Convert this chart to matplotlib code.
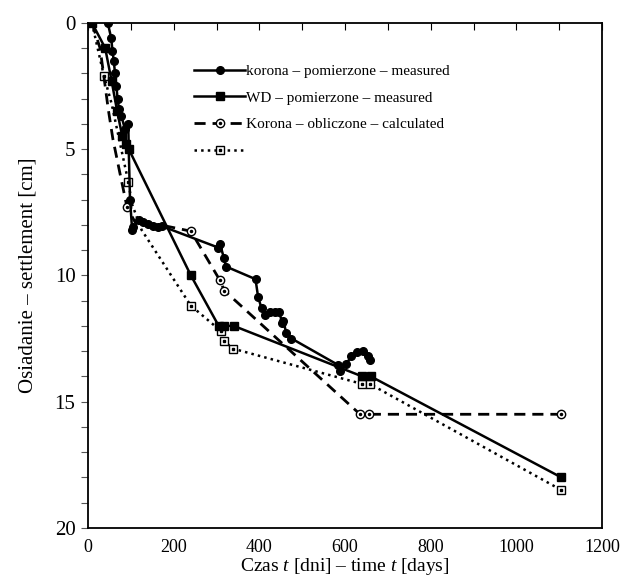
import matplotlib
matplotlib.use("Agg")
import matplotlib.pyplot as plt
from matplotlib.ticker import MultipleLocator
from matplotlib.legend_handler import HandlerTuple

plt.rcParams['font.family'] = ['Liberation Serif', 'DejaVu Serif']
plt.rcParams['mathtext.fontset'] = 'custom'
plt.rcParams['mathtext.rm'] = 'Liberation Serif'
plt.rcParams['mathtext.it'] = 'Liberation Serif:italic'

# korona - measured
kor_t = [46, 54, 57, 60, 63, 66, 69, 72, 78, 86, 94, 95, 98, 103, 106, 120, 129, 140, 152, 163, 172,
         304, 308, 317, 322, 391, 397, 405, 413, 425, 436, 446, 454, 456, 463, 475,
         584, 588, 603, 615, 627, 642, 654, 658]
kor_s = [0, 0.6, 1.1, 1.5, 2.0, 2.5, 3.0, 3.4, 3.7, 4.2, 4.0, 5.0, 7.0, 8.2, 8.1, 7.8, 7.9, 7.95, 8.05, 8.1, 8.05,
         8.9, 8.75, 9.3, 9.65, 10.15, 10.85, 11.3, 11.55, 11.45, 11.45, 11.45, 11.9, 11.8, 12.3, 12.5,
         13.55, 13.8, 13.5, 13.2, 13.05, 13.0, 13.2, 13.35]

# WD - measured
wd_t = [9, 40, 55, 68, 80, 88, 95, 240, 305, 318, 340, 640, 660, 1105]
wd_s = [0, 1.0, 2.3, 3.5, 4.5, 4.8, 5.0, 10.0, 12.0, 12.0, 12.0, 14.0, 14.0, 18.0]

# korona - calculated
calc_t = [9, 28, 36, 47, 58, 75, 91, 110, 130, 168, 240, 308, 318, 635, 655, 1105]
calc_s = [0, 1.0, 2.0, 3.4, 4.6, 6.0, 7.3, 7.9, 8.0, 8.0, 8.25, 10.2, 10.6, 15.5, 15.5, 15.5]
calc_mark = [6, 10, 11, 12, 13, 14, 15]

# WD - calculated (no label in legend)
dot_t = [9, 37, 55, 70, 94, 103, 125, 240, 310, 318, 338, 640, 658, 1105]
dot_s = [0, 2.1, 3.2, 4.4, 6.3, 7.2, 8.2, 11.2, 12.2, 12.6, 12.9, 14.3, 14.3, 18.5]
dot_mark = [1, 4, 7, 8, 9, 10, 11, 12, 13]

labels = ["korona – pomierzone – measured", "WD – pomierzone – measured",
          "Korona – obliczone – calculated", " "]

fig = plt.figure(figsize=(6.2, 5.84), dpi=100)
ax = fig.add_axes([0.142, 0.096, 0.829, 0.865])

l1, = ax.plot(kor_t, kor_s, '-o', color='black', lw=1.8, ms=5.5, zorder=4)
l2, = ax.plot(wd_t, wd_s, '-s', color='black', lw=1.8, ms=6, zorder=3)
l3, = ax.plot(calc_t, calc_s, '--o', color='black', lw=2, ms=6, mfc='white', mew=1, dashes=(4, 2.5),
              markevery=calc_mark, zorder=2)
d3, = ax.plot([calc_t[i] for i in calc_mark], [calc_s[i] for i in calc_mark], ls='none', marker='o',
              ms=1.5, color='black', zorder=2)
l4, = ax.plot(dot_t, dot_s, ':s', color='black', lw=1.8, ms=6, mfc='white', mew=1,
              markevery=dot_mark, zorder=1)
d4, = ax.plot([dot_t[i] for i in dot_mark], [dot_s[i] for i in dot_mark], ls='none', marker='s',
              ms=1.5, color='black', zorder=1)

ax.set_xlim(0, 1200)
ax.set_ylim(20, 0)
ax.xaxis.set_major_locator(MultipleLocator(200))
ax.xaxis.set_minor_locator(MultipleLocator(100))
ax.yaxis.set_major_locator(MultipleLocator(5))
ax.yaxis.set_minor_locator(MultipleLocator(1))

ax.tick_params(axis='x', which='both', top=True, bottom=False, labeltop=False, labelbottom=True,
               direction='in', length=5, width=0.8, labelsize=13, pad=8)
ax.tick_params(axis='y', which='both', direction='out', length=5, width=0.8, labelsize=15, pad=4,
               color='#555555')
for sp in ax.spines.values():
    sp.set_linewidth(1.3)

ax.set_xlabel("Czas $t$ [dni] – time $t$ [days]", fontsize=14, labelpad=0)
ax.set_ylabel("Osiadanie – settlement [cm]", fontsize=15, labelpad=12)

ax.legend([l1, l2, (l3, d3), (l4, d4)], labels, loc='upper left', bbox_to_anchor=(0.18, 0.945),
          frameon=False, fontsize=11, handlelength=3.3, handletextpad=0.1, labelspacing=0.85,
          handler_map={tuple: HandlerTuple(ndivide=1)})

fig.savefig("out.png", dpi=100)
